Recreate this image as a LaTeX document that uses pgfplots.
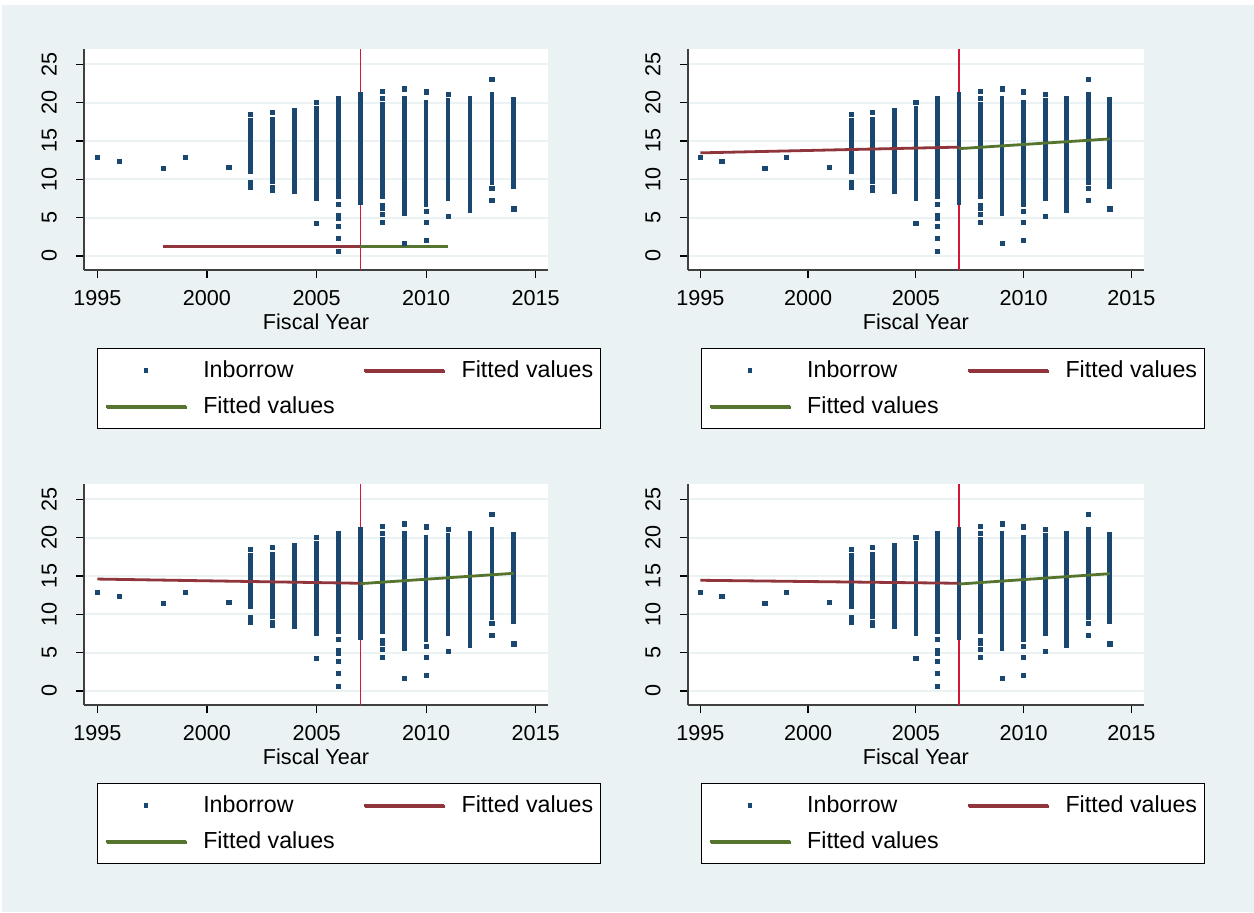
\documentclass[border=0pt]{standalone}
\usepackage{fontspec}
\setmainfont{Liberation Sans}
\usepackage{pgfplots}
\usepackage{pgfplotstable}
\pgfplotsset{compat=1.18}
\usetikzlibrary{shadows}

\definecolor{bgc}{RGB}{234,242,243}
\definecolor{navy}{RGB}{26,71,111}
\definecolor{maroon}{RGB}{144,53,59}
\definecolor{fgreen}{RGB}{85,117,47}
\definecolor{xlc}{RGB}{212,22,58}

\newcommand\tickfont{\fontsize{10.8}{12}\selectfont}
\newcommand\legfont{\fontsize{11.6}{13}\selectfont}

\pgfplotstableread{
x y
2002 11.0
2002 17.7
2002 nan
2003 9.7
2003 17.85
2003 nan
2003 8.5
2003 8.9
2003 nan
2004 8.35
2004 18.95
2004 nan
2005 9.15
2005 19.2
2005 nan
2005 7.5
2005 8.5
2005 nan
2006 7.7
2006 19.8
2006 nan
2006 4.9
2006 5.3
2006 nan
2007 6.9
2007 21.1
2007 nan
2008 7.75
2008 19.8
2008 nan
2008 6.2
2008 6.65
2008 nan
2009 6.45
2009 20.55
2009 nan
2009 5.5
2009 5.8
2009 nan
2010 6.65
2010 20.05
2010 nan
2011 7.45
2011 20.25
2011 nan
2012 5.9
2012 20.55
2012 nan
2013 9.6
2013 21.1
2013 nan
2014 9.1
2014 20.4
}\tblstrips

\pgfplotstableread{
x y
1995 12.9
1996 12.35
1998 11.4
1999 12.9
2001 11.55
2002 18.5
2002 9.6
2002 8.9
2003 18.7
2005 20.0
2005 4.2
2006 20.5
2006 6.75
2006 3.9
2006 2.3
2006 0.6
2008 21.5
2008 20.6
2008 5.4
2008 4.4
2009 21.8
2009 1.6
2010 21.4
2010 5.8
2010 4.4
2010 2.0
2011 21.1
2011 5.15
2013 23.0
2013 8.8
2013 7.3
2014 6.15
}\tbldots

\pgfplotsset{
  /pgf/number format/assume math mode=true,
  panel/.style={
    scale only axis, height=110.5pt,
    xmin=1994.39, xmax=2015.56, ymin=-1.83, ymax=27.0,
    axis x line*=bottom, axis y line*=left,
    axis line style={-, line width=0.8pt, black!75},
    xtick={1995,2000,2005,2010,2015}, ytick={0,5,10,15,20,25},
    tick align=outside, major tick length=4pt,
    tick style={black, line width=0.6pt},
    ymajorgrids, major grid style={line width=1pt, bgc},
    axis background/.style={fill=white},
    xticklabel style={font=\tickfont, /pgf/number format/1000 sep={}},
    yticklabel style={font=\tickfont, rotate=90, anchor=south},
    xticklabel shift=2.7pt, yticklabel shift=6pt,
    xlabel={Fiscal Year}, xlabel style={font=\tickfont, yshift=2.7pt},
    unbounded coords=jump,
    anchor=south west,
    legend columns=2, legend cell align=left,
    legend style={anchor=north west, draw=black, line width=0.5pt, fill=white,
      drop shadow={shadow xshift=0.6pt, shadow yshift=-0.6pt, fill=black!55, opacity=1},
      inner xsep=3.5pt, inner ysep=6pt, font=\legfont,
      column sep=0pt,
      /tikz/every odd column/.append style={column sep=8pt},
      /tikz/every even column/.append style={column sep=14pt},
      row sep=8pt, nodes={inner sep=0pt}},
  },
  xl/.style={xlc, line width=0.8pt, forget plot},
  strip/.style={navy, line width=2.35pt, line cap=rect, forget plot},
  dotsty/.style={only marks, mark=square*, mark size=1.05pt, navy, forget plot},
  fitr/.style={maroon, line width=1.4pt, forget plot},
  fitg/.style={fgreen, line width=1.4pt, forget plot},
  legline/.style={legend image code/.code={\draw[##1] (0pt,0pt) -- (40pt,0pt);}},
  legmark/.style={only marks, mark=square*, mark size=0.9pt, navy,
     legend image code/.code={\draw[mark repeat=2, mark phase=2, ##1] plot coordinates {(0pt,0pt) (20pt,0pt) (40pt,0pt)};}},
}

\newcommand\legendstuff{%
  \addlegendimage{legmark}\addlegendentry{Inborrow}
  \addlegendimage{maroon, line width=1.4pt, legline}\addlegendentry{Fitted values}
  \addlegendimage{fgreen, line width=1.4pt, legline}\addlegendentry{Fitted values}
}

\begin{document}
\begin{tikzpicture}
\fill[white] (0,0) rectangle (627pt,456pt);
\fill[bgc] (1pt,0) rectangle (627pt,453.5pt);

% top left
\begin{axis}[panel, at={(42pt,321pt)}, width=232pt, legend style={at={(0.028,-0.353)}}]
\addplot[xl] coordinates {(2007,-1.83) (2007,27)};
\addplot[strip] table {\tblstrips};
\addplot[dotsty] table {\tbldots};
\addplot[fitr] coordinates {(1998,1.2) (2007,1.2)};
\addplot[fitg] coordinates {(2007,1.2) (2011,1.2)};
\legendstuff
\end{axis}

% top right
\begin{axis}[panel, at={(343.85pt,321pt)}, width=228.2pt, xmin=1994.415, xmax=2015.59, legend style={at={(0.029,-0.353)}}]
\addplot[xl] coordinates {(2007,-1.83) (2007,27)};
\addplot[strip] table {\tblstrips};
\addplot[dotsty] table {\tbldots};
\addplot[fitr] coordinates {(1995,13.45) (2007,14.2)};
\addplot[fitg] coordinates {(2007,14.0) (2014,15.27)};
\legendstuff
\end{axis}

% bottom left
\begin{axis}[panel, at={(42pt,103.5pt)}, width=232pt, legend style={at={(0.028,-0.353)}}]
\addplot[xl] coordinates {(2007,-1.83) (2007,27)};
\addplot[strip] table {\tblstrips};
\addplot[dotsty] table {\tbldots};
\addplot[fitr] coordinates {(1995,14.6) (2007,14.05)};
\addplot[fitg] coordinates {(2007,14.0) (2014,15.35)};
\legendstuff
\end{axis}

% bottom right
\begin{axis}[panel, at={(343.85pt,103.5pt)}, width=228.2pt, xmin=1994.415, xmax=2015.59, legend style={at={(0.029,-0.353)}}]
\addplot[xl] coordinates {(2007,-1.83) (2007,27)};
\addplot[strip] table {\tblstrips};
\addplot[dotsty] table {\tbldots};
\addplot[fitr] coordinates {(1995,14.44) (2007,14.05)};
\addplot[fitg] coordinates {(2007,13.95) (2014,15.3)};
\legendstuff
\end{axis}
\end{tikzpicture}
\end{document}
